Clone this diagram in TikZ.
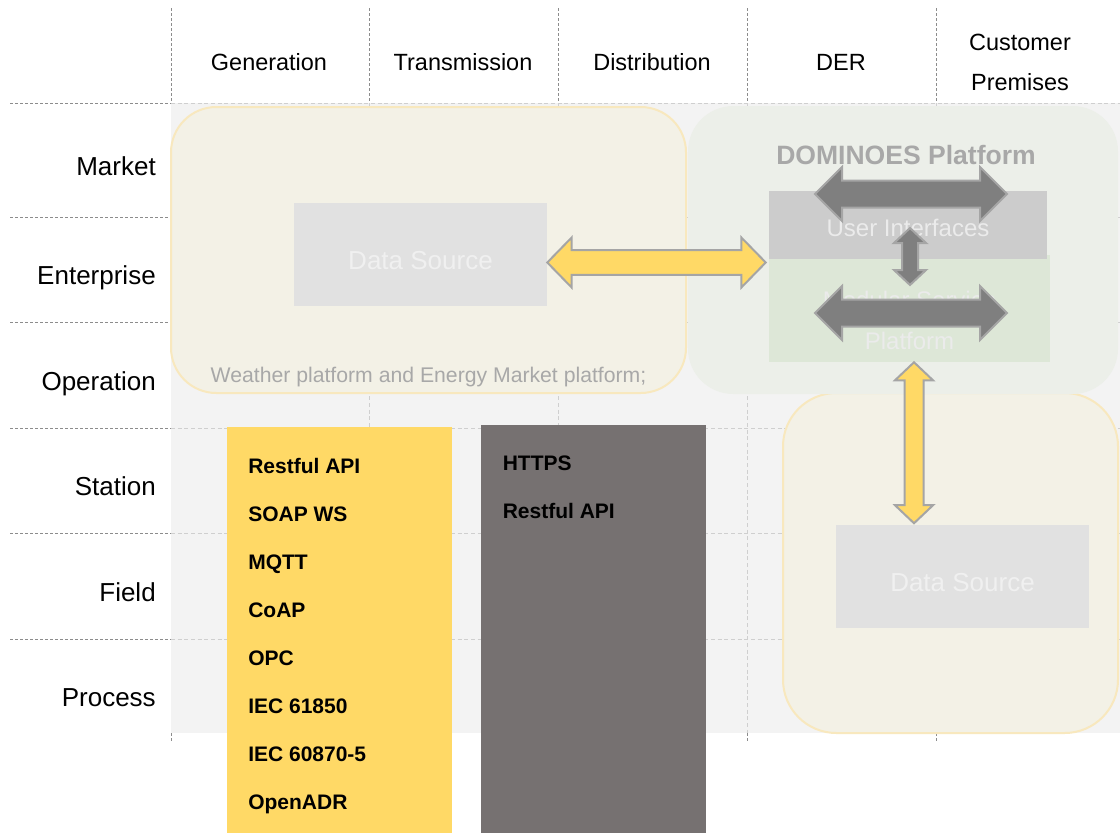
\documentclass[tikz,border=0pt]{standalone}
\usepackage{fontspec}
\setmainfont{Liberation Sans}
\usetikzlibrary{calc}

\definecolor{fieldbg}{HTML}{F3F3F3}
\definecolor{gridline}{HTML}{8C8C8C}
\definecolor{gridlight}{HTML}{CFCFCF}
\definecolor{sandfill}{HTML}{F3F1E6}
\definecolor{sandedge}{HTML}{F8E8BE}
\definecolor{sagefill}{HTML}{ECEFE9}
\definecolor{srcfill}{HTML}{E1E1E1}
\definecolor{srctext}{HTML}{F0F0F0}
\definecolor{uifill}{HTML}{CCCCCC}
\definecolor{mspfill}{HTML}{DDE7D7}
\definecolor{protoyellow}{HTML}{FFD966}
\definecolor{secgray}{HTML}{767171}
\definecolor{arrowgray}{HTML}{7F7F7F}
\definecolor{arrowedge}{HTML}{A5A5A5}
\definecolor{fadedtext}{HTML}{A8A8A8}

% horizontal double block arrow: style, left tip, right tip, shaft half, head half, head length
\newcommand\hblock[6]{%
  \filldraw[#1] (#2) -- ++(#6,-#5) -- ++(0,#5-#4) -- ($(#3)+(-#6,-#4)$) -- ++(0,#4-#5)
    -- (#3) -- ++(-#6,#5) -- ++(0,#4-#5) -- ($(#2)+(#6,#4)$) -- ++(0,#5-#4) -- cycle;}
% vertical double block arrow: style, top tip, bottom tip, shaft half, head half, head length
\newcommand\vblock[6]{%
  \filldraw[#1] (#2) -- ++(#5,#6) -- ++(#4-#5,0) -- ($(#3)+(#4,-#6)$) -- ++(#5-#4,0)
    -- (#3) -- ++(-#5,-#6) -- ++(#5-#4,0) -- ($(#2)+(-#4,#6)$) -- ++(#4-#5,0) -- cycle;}

\begin{document}
\begin{tikzpicture}[x=0.75pt,y=-0.75pt,
  darkdash/.style={draw=gridline,line width=0.75pt,dash pattern=on 2.25pt off 1.5pt},
  lightdash/.style={draw=gridlight,line width=0.75pt,dash pattern=on 3pt off 2pt},
  colhead/.style={anchor=base,inner sep=0pt,font=\fontsize{17.6}{21}\selectfont},
  rowhead/.style={anchor=base east,inner sep=0pt,font=\fontsize{19.5}{23}\selectfont},
  softbox/.style={draw=sandedge,line width=1.5pt,fill=sandfill,rounded corners=34pt,inner sep=0pt},
  sagebox/.style={fill=sagefill,rounded corners=34pt,inner sep=0pt},
  srcbox/.style={fill=srcfill,inner sep=0pt,minimum width=253*0.75pt,minimum height=103*0.75pt},
  srclabel/.style={anchor=base,inner sep=0pt,text=srctext,font=\fontsize{19.5}{23}\selectfont},
  paletext/.style={anchor=base,inner sep=0pt,text=white!92!black,font=\fontsize{18}{21}\selectfont},
  item/.style={anchor=base west,inner sep=0pt,font=\fontsize{15.75}{19}\selectfont\bfseries},
  yarrow/.style={fill=protoyellow,draw=arrowedge,line width=1.5pt},
  garrow/.style={fill=arrowgray,draw=arrowedge,line width=1.5pt}
]
\useasboundingbox (0,0) rectangle (1120,832);
\fill[white] (0,0) rectangle (1120,832);

% grid: dark dashes in the white margins
\foreach \x in {171,369,558,747,936} \draw[darkdash] (\x,8) -- (\x,743);
\foreach \y in {103,217,322,428,533,639} \draw[darkdash] (10,\y) -- (171,\y);
% grey field with faint dashes
\fill[fieldbg] (171,103) rectangle (1120,733);
\foreach \x in {369,558,747,936} \draw[lightdash] (\x,103) -- (\x,733);
\foreach \y in {103,217,322,428,533,639} \draw[lightdash] (171,\y) -- (1120,\y);

% column headings
\node[colhead] (hgen) at (269,70.4) {Generation};
\node[colhead] (htra) at (463,70.4) {Transmission};
\node[colhead] (hdis) at (652,70.4) {Distribution};
\node[colhead] (hder) at (841,70.4) {DER};
\node[colhead] (hcus) at (1020,50.4) {Customer};
\node[colhead] (hpre) at (1020,90.4) {Premises};

% row headings
\node[rowhead] (rmar) at (156,175.3) {Market};
\node[rowhead] (rent) at (156,284.8) {Enterprise};
\node[rowhead] (rope) at (156,390.3) {Operation};
\node[rowhead] (rsta) at (156,495.8) {Station};
\node[rowhead] (rfie) at (156,601.3) {Field};
\node[rowhead] (rpro) at (156,706.8) {Process};

% external data platforms
\node[softbox,minimum width=515*0.75pt,minimum height=286*0.75pt] (ext) at (428.5,250) {};
\node[srcbox] (ds1) at (420.5,254.5) {};
\node[srclabel] (ds1t) at (420.5,269.3) {Data Source};
\node[anchor=base,inner sep=0pt,text=fadedtext,font=\fontsize{15.9}{18}\selectfont] (wtxt) at (428.5,382.3)
  {Weather platform and Energy Market platform;};

% customer-side data source
\node[softbox,rounded corners=40pt,minimum width=335*0.75pt,minimum height=340*0.75pt] (cust) at (950.5,563) {};
\node[srcbox] (ds2) at (962.5,576) {};
\node[srclabel] (ds2t) at (962.5,591) {Data Source};

% DOMINOES platform
\node[sagebox,minimum width=430*0.75pt,minimum height=288*0.75pt] (dom) at (903,250) {};
\node[anchor=base,inner sep=0pt,text=fadedtext,font=\fontsize{19.9}{23}\selectfont\bfseries] (domt) at (906,164.5) {DOMINOES Platform};
\node[fill=mspfill,inner sep=0pt,minimum width=281*0.75pt,minimum height=107*0.75pt] (msp) at (909.5,308.5) {};
\node[paletext] (mspt1) at (909.5,308) {Modular Service};
\node[paletext] (mspt2) at (909.5,349.6) {Platform};
\node[fill=uifill,inner sep=0pt,minimum width=278*0.75pt,minimum height=68*0.75pt] (ui) at (908,225) {};
\node[paletext] (uit) at (908,236.6) {User Interfaces};

% internal platform exchanges
\coordinate (g1l) at (815,194);
\coordinate (g1r) at (1007,194);
\coordinate (g2l) at (815,313);
\coordinate (g2r) at (1007,313);
\coordinate (g3t) at (910,228);
\coordinate (g3b) at (910,285);
\hblock{garrow}{g1l}{g1r}{13.5}{27}{27}
\hblock{garrow}{g2l}{g2r}{13.5}{27}{27}
\vblock{garrow}{g3t}{g3b}{8}{16}{15}

% data exchanges with the platform
\coordinate (y1l) at ($(ds1.east)+(0,8)$);
\coordinate (y1r) at ($(y1l -| ui.west)+(-3,0)$);
\hblock{yarrow}{y1l}{y1r}{12.3}{25}{24.4}
\coordinate (y2t) at ($(msp.south)+(4.5,0)$);
\coordinate (y2b) at ($(y2t |- ds2.north)+(0,-1)$);
\vblock{yarrow}{y2t}{y2b}{9.5}{19}{18}

% protocol lists
\node[fill=protoyellow,inner sep=0pt,minimum width=225*0.75pt,minimum height=410*0.75pt] (proto) at (339.5,632) {};
\node[fill=secgray,inner sep=0pt,minimum width=225*0.75pt,minimum height=412*0.75pt] (sec) at (593.5,631) {};
\node[item] (p1) at (248,473.5) {Restful API};
\node[item] (p2) at (248,521.5) {SOAP WS};
\node[item] (p3) at (248,569.5) {MQTT};
\node[item] (p4) at (248,617.5) {CoAP};
\node[item] (p5) at (248,665.5) {OPC};
\node[item] (p6) at (248,713.5) {IEC 61850};
\node[item] (p7) at (248,761.5) {IEC 60870-5};
\node[item] (p8) at (248,809.5) {OpenADR};
\node[item] (s1) at (502.5,470.5) {HTTPS};
\node[item] (s2) at (502.5,518.5) {Restful API};
\end{tikzpicture}
\end{document}
